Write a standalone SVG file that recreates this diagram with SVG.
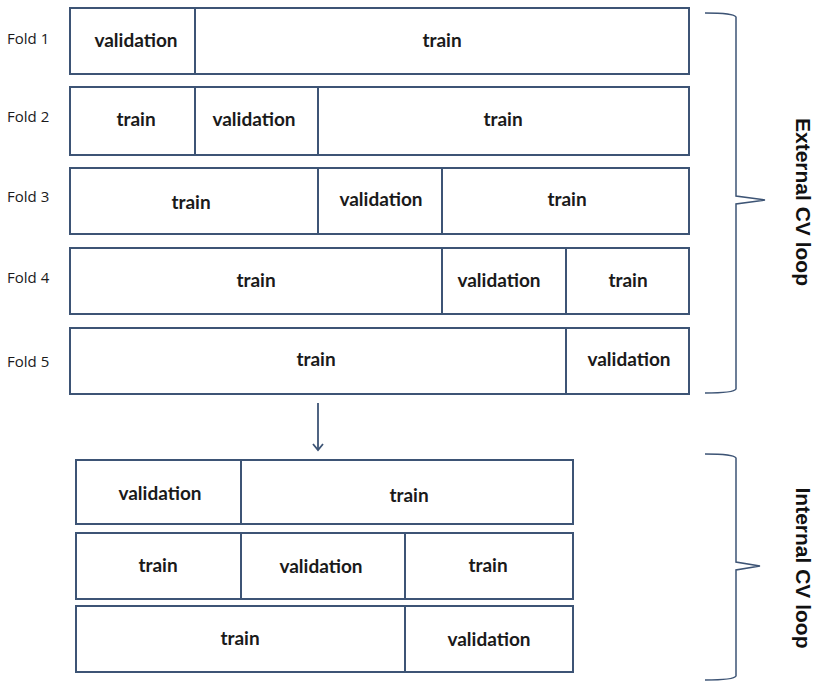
<svg xmlns="http://www.w3.org/2000/svg" width="825" height="686" viewBox="0 0 825 686">
<defs>
<style>
.box{fill:#fff;stroke:#3d5475;stroke-width:2}
.div{stroke:#3d5475;stroke-width:2}
.t{font-family:Lato,"Open Sans",sans-serif;font-weight:bold;font-size:19px;fill:#1a1a1a;text-anchor:middle;dominant-baseline:central}
.f{font-family:"Open Sans","Liberation Sans",sans-serif;font-size:15px;fill:#1a1a1a;dominant-baseline:central}
.b{fill:none;stroke:#3d5475;stroke-width:1.5}
.lbl{font-family:"Liberation Sans",Arial,sans-serif;font-weight:bold;font-size:21px;fill:#111;text-anchor:middle;dominant-baseline:central}
</style>
<marker id="ah" markerWidth="12" markerHeight="12" refX="10" refY="6" orient="auto" markerUnits="userSpaceOnUse" viewBox="0 0 12 12">
<path d="M4,1 L10,6 L4,11" fill="none" stroke="#3d5475" stroke-width="1.8"/>
</marker>
</defs>
<rect width="825" height="686" fill="#fff"/>

<g id="fold1">
<text class="f" x="7" y="38">Fold 1</text>
<rect class="box" x="70" y="8" width="619" height="66"/>
<line class="div" x1="195" y1="8" x2="195" y2="74"/>
<text class="t" x="136" y="39">validation</text>
<text class="t" x="442" y="39">train</text>
</g>
<g id="fold2">
<text class="f" x="7" y="116">Fold 2</text>
<rect class="box" x="70" y="87" width="619" height="68"/>
<line class="div" x1="195" y1="87" x2="195" y2="155"/>
<line class="div" x1="318" y1="87" x2="318" y2="155"/>
<text class="t" x="136" y="118">train</text>
<text class="t" x="254" y="118">validation</text>
<text class="t" x="503" y="118">train</text>
</g>
<g id="fold3">
<text class="f" x="7" y="196">Fold 3</text>
<rect class="box" x="70" y="168" width="619" height="66"/>
<line class="div" x1="318" y1="168" x2="318" y2="234"/>
<line class="div" x1="442" y1="168" x2="442" y2="234"/>
<text class="t" x="191" y="201">train</text>
<text class="t" x="381" y="198">validation</text>
<text class="t" x="567" y="198">train</text>
</g>
<g id="fold4">
<text class="f" x="7" y="277">Fold 4</text>
<rect class="box" x="70" y="248" width="619" height="66"/>
<line class="div" x1="442" y1="248" x2="442" y2="314"/>
<line class="div" x1="566" y1="248" x2="566" y2="314"/>
<text class="t" x="256" y="279">train</text>
<text class="t" x="499" y="279">validation</text>
<text class="t" x="628" y="279">train</text>
</g>
<g id="fold5">
<text class="f" x="7" y="361">Fold 5</text>
<rect class="box" x="70" y="328" width="619" height="66"/>
<line class="div" x1="566" y1="328" x2="566" y2="394"/>
<text class="t" x="316" y="358">train</text>
<text class="t" x="629" y="358">validation</text>
</g>

<g id="inner1">
<rect class="box" x="76" y="460" width="497" height="64"/>
<line class="div" x1="241" y1="460" x2="241" y2="524"/>
<text class="t" x="160" y="492">validation</text>
<text class="t" x="409" y="494">train</text>
</g>
<g id="inner2">
<rect class="box" x="76" y="533" width="497" height="66"/>
<line class="div" x1="241" y1="533" x2="241" y2="599"/>
<line class="div" x1="405" y1="533" x2="405" y2="599"/>
<text class="t" x="158" y="564">train</text>
<text class="t" x="321" y="565">validation</text>
<text class="t" x="488" y="564">train</text>
</g>
<g id="inner3">
<rect class="box" x="76" y="606" width="497" height="66"/>
<line class="div" x1="405" y1="606" x2="405" y2="672"/>
<text class="t" x="240" y="637">train</text>
<text class="t" x="489" y="638">validation</text>
</g>

<g id="external-brace">
<path class="b" d="M705,13 Q734,13 736,17 L736,196 L765,200 L736,204 L736,389 Q734,393 705,393"/>
<text class="lbl" transform="translate(803,202) rotate(90)">External CV loop</text>
</g>
<g id="internal-brace">
<path class="b" d="M705,454 Q734,454 736,458 L736,562 L760,566 L736,570 L736,676 Q734,680 705,680"/>
<text class="lbl" transform="translate(803,568) rotate(90)">Internal CV loop</text>
</g>

<g id="connectors">
<line x1="318" y1="403" x2="318" y2="450" stroke="#3d5475" stroke-width="1.8" marker-end="url(#ah)"/>
</g>
</svg>
